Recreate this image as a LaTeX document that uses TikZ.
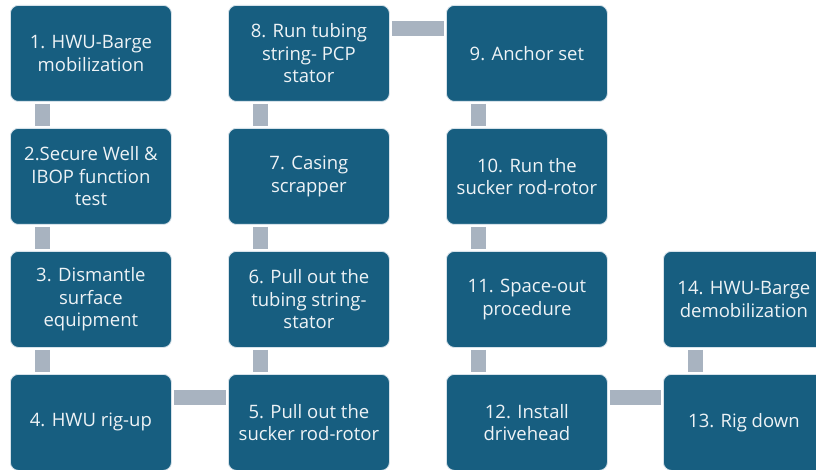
\documentclass[tikz,border=0pt]{standalone}
\usepackage{fontspec}
\setmainfont{Open Sans}
\definecolor{boxfill}{HTML}{175E80}
\definecolor{boxline}{HTML}{D6E2EA}
\definecolor{conncol}{HTML}{A8B3C0}
\definecolor{txtcol}{HTML}{EEF3F6}
\begin{document}
\begin{tikzpicture}[x=1pt,y=-1pt,
  stepbox/.style={draw=boxline, line width=0.8pt, fill=boxfill, rounded corners=8pt,
    minimum width=161pt, minimum height=96pt, anchor=north west, align=center,
    text=txtcol, font=\fontsize{18.5}{22.5}\selectfont, inner sep=2pt},
  conn/.style={draw=conncol, line width=14.5pt, shorten <=2pt, shorten >=2pt}]
\useasboundingbox (0,0) rectangle (816,470);
\fill[white] (0,0) rectangle (816,470);
% column 1
\node[stepbox] (n1) at (10,5) {1. HWU-Barge\\mobilization};
\node[stepbox] (n2) at (10,128) {2.Secure Well \&\\IBOP function\\test};
\node[stepbox] (n3) at (10,251) {3. Dismantle\\surface\\equipment};
\node[stepbox] (n4) at (10,374) {4. HWU rig-up};
% column 2
\node[stepbox] (n8) at (228,5) {8. Run tubing\\string- PCP\\stator};
\node[stepbox] (n7) at (228,128) {7. Casing\\scrapper};
\node[stepbox] (n6) at (228,251) {6. Pull out the\\tubing string-\\stator};
\node[stepbox] (n5) at (228,374) {5. Pull out the\\sucker rod-rotor};
% column 3
\node[stepbox] (n9) at (446,5) {9. Anchor set};
\node[stepbox] (n10) at (446,128) {10. Run the\\sucker rod-rotor};
\node[stepbox] (n11) at (446,251) {11. Space-out\\procedure};
\node[stepbox] (n12) at (446,374) {12. Install\\drivehead};
% column 4
\node[stepbox] (n14) at (663,251) {14. HWU-Barge\\demobilization};
\node[stepbox] (n13) at (663,374) {13. Rig down};
% vertical connectors (upper box / lower box)
\foreach \a/\b in {n1/n2,n2/n3,n3/n4,n8/n7,n7/n6,n6/n5,n9/n10,n10/n11,n11/n12,n14/n13}{
  \draw[conn] ([xshift=32.5pt]\a.south west) -- ([xshift=32.5pt]\b.north west);
}
% horizontal connectors
\foreach \a/\b in {n4/n5,n8/n9,n12/n13}{
  \draw[conn] ([yshift=-23.5pt]\a.north east) -- ([yshift=-23.5pt]\b.north west);
}
\end{tikzpicture}
\end{document}
